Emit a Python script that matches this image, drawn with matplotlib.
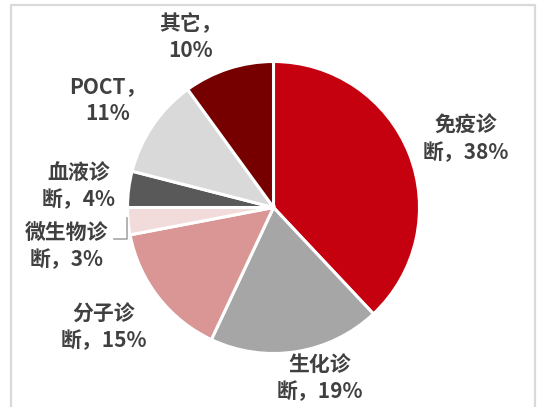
#!/usr/bin/env python3
import numpy as np
import matplotlib
matplotlib.use("Agg")
import matplotlib.pyplot as plt


LABELS = ["免疫诊\n断，38%", "生化诊\n断，19%", "分子诊\n断，15%", "微生物诊\n断，3%",
          "血液诊\n断，4%", "POCT，\n11%", "其它，\n10%"]
SHARES = [38, 19, 15, 3, 4, 11, 10]
COLORS = ["#C5000F", "#A6A6A6", "#D99694", "#F2DCDB", "#595959", "#D9D9D9", "#760000"]

# label centres in pixels (x from left, y from top)
LABEL_POS = [(466, 139), (320, 378), (104, 327), (67, 246), (79, 186), (108, 100), (191, 37)]

W, H = 537, 407
CENTER = (273.5, 207.5)
RADIUS = 146


def main():
    plt.rcParams["font.family"] = ["Noto Sans CJK SC", "DejaVu Sans"]
    fig = plt.figure(figsize=(W / 100, H / 100), dpi=100)
    ax = fig.add_axes([0, 0, 1, 1])

    wedges, _ = ax.pie(
        SHARES,
        colors=COLORS,
        startangle=90,
        counterclock=False,
        center=(CENTER[0], H - CENTER[1]),
        radius=RADIUS,
        wedgeprops=dict(edgecolor="white", linewidth=2.2),
        frame=True,
    )
    ax.set_xlim(0, W)
    ax.set_ylim(0, H)
    ax.set_aspect("equal")
    ax.axis("off")

    for text, (px, py) in zip(LABELS, LABEL_POS):
        ax.text(px, H - py, text, ha="center", va="center", fontsize=15,
                fontweight="bold", color="#404040", linespacing=1.32)

    # leader line for the small 微生物诊断 slice
    w = wedges[3]
    mid = np.deg2rad((w.theta1 + w.theta2) / 2)
    x0 = CENTER[0] + RADIUS * np.cos(mid)
    y0 = H - CENTER[1] + RADIUS * np.sin(mid)
    ax.plot([x0 - 1, x0 - 1, 114], [y0 + 3, H - 239, H - 239],
            color="#A6A6A6", linewidth=1.2)

    # outer frame
    ax.plot([11, 11, 535, 535], [0, H - 5, H - 5, 0], color="#D9D9D9",
            linewidth=1.6, clip_on=False)

    fig.savefig("out.png", dpi=100)


if __name__ == "__main__":
    main()
